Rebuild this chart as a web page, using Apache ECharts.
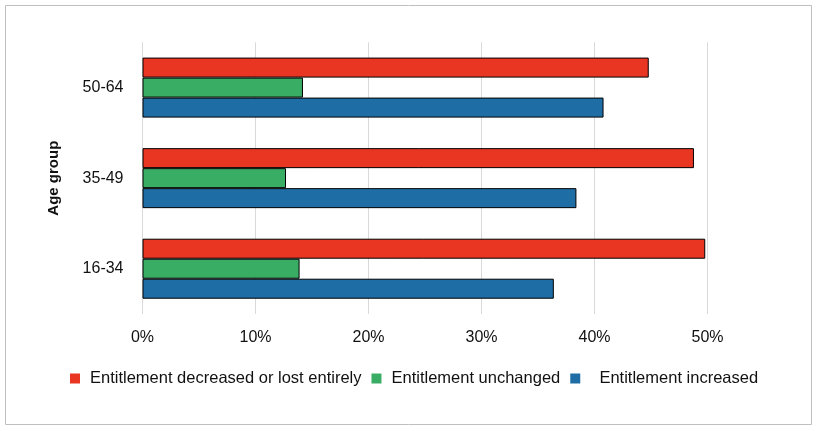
<!DOCTYPE html>
<html>
<head>
<meta charset="utf-8">
<script src="https://cdn.jsdelivr.net/npm/echarts@6/dist/echarts.min.js"></script>
<style>
html,body{margin:0;padding:0;background:#fff;}
#c{width:818px;height:431px;}
</style>
</head>
<body>
<div id="c"></div>
<script>
var categories = ['16-34', '35-49', '50-64'];
var seriesNames = ['Entitlement decreased or lost entirely', 'Entitlement unchanged', 'Entitlement increased'];
var decreased = [49.8, 48.8, 44.8];
var unchanged = [13.9, 12.7, 14.2];
var increased = [36.4, 38.4, 40.8];
var xTicks = [0, 10, 20, 30, 40, 50];

var colors = ['#E83623', '#3AAD65', '#1E6EA5'];
var chart = echarts.init(document.getElementById('c'));
var font = 'Liberation Sans, Arial, sans-serif';
function mk(name, data, color) {
  return {
    name: name, type: 'bar', data: data, barWidth: 20, barGap: '0%',
    itemStyle: { color: color, borderColor: '#000', borderWidth: 1 },
    emphasis: { disabled: true }
  };
}
chart.setOption({
  animation: false,
  textStyle: { fontFamily: font },
  graphic: [{
    type: 'rect', shape: { x: 5.5, y: 5.5, width: 806, height: 419 },
    style: { fill: 'none', stroke: '#bfbfbf', lineWidth: 1 }, silent: true
  }],
  grid: { left: 142.5, right: 110.5, top: 42.3, bottom: 117, containLabel: false },
  legend: {
    data: seriesNames, left: 65, top: 365, itemWidth: 10, itemHeight: 10, itemGap: 10,
    icon: 'rect',
    itemStyle: { borderWidth: 0 },
    formatter: function (n) { return n === seriesNames[2] ? '  ' + n : n; },
    textStyle: { fontSize: 16.5, color: '#111', fontFamily: font, padding: [0, 0, 0, 5] }
  },
  xAxis: {
    type: 'value', min: xTicks[0], max: xTicks[xTicks.length - 1], interval: 10,
    axisLine: { show: false }, axisTick: { show: false },
    splitLine: { lineStyle: { color: '#d9d9d9', width: 1 } },
    axisLabel: { formatter: '{value}%', fontSize: 16, color: '#111', margin: 16 }
  },
  yAxis: {
    type: 'category', data: categories,
    name: 'Age group', nameLocation: 'middle', nameGap: 81, nameRotate: 90,
    nameTextStyle: { fontSize: 15, fontWeight: 'bold', color: '#111' },
    axisLine: { show: false }, axisTick: { show: false },
    axisLabel: { fontSize: 16, color: '#111', margin: 19 }
  },
  series: [
    mk(seriesNames[0], decreased, colors[0]),
    mk(seriesNames[1], unchanged, colors[1]),
    mk(seriesNames[2], increased, colors[2])
  ]
});
</script>
</body>
</html>
